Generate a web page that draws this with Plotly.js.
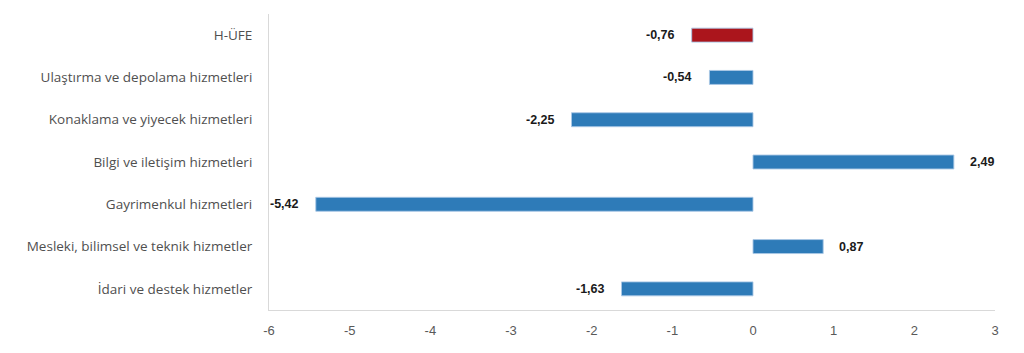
<!DOCTYPE html>
<html><head><meta charset="utf-8">
<script src="https://cdn.plot.ly/plotly-3.0.1.min.js"></script>
<style>html,body{margin:0;padding:0;background:#fff;}#chart{width:1024px;height:353px;}</style>
</head><body><div id="chart"></div>
<script>
const categories = ["H-ÜFE","Ulaştırma ve depolama hizmetleri","Konaklama ve yiyecek hizmetleri","Bilgi ve iletişim hizmetleri","Gayrimenkul hizmetleri","Mesleki, bilimsel ve teknik hizmetler","İdari ve destek hizmetler"];
const values = [-0.76,-0.54,-2.25,2.49,-5.42,0.87,-1.63];
const colors = ["#ab151c","#2e7bb8","#2e7bb8","#2e7bb8","#2e7bb8","#2e7bb8","#2e7bb8"];
const xTicks = [-6,-5,-4,-3,-2,-1,0,1,2,3];

const fmt = v => v.toFixed(2).replace('.', ',');

const trace = {
  type:'bar', orientation:'h', y:categories, x:values,
  width:0.33,
  marker:{color:colors, line:{color:'rgba(170,200,230,0.9)', width:1}},
  hoverinfo:'none'
};
const annotations = values.map((v,i)=>({
  x:v, y:categories[i], xref:'x', yref:'y', text:fmt(v), showarrow:false,
  xanchor: v<0 ? 'right':'left', xshift: v<0 ? -15 : 14,
  font:{family:'"Liberation Sans Narrow", "Liberation Sans", Arial', size:12.5, color:'#1a1a1a', weight:'bold'}
}));
const layout = {
  width:1024, height:353,
  margin:{l:269, r:29, t:14, b:43},
  paper_bgcolor:'#fff', plot_bgcolor:'#fff',
  showlegend:false,
  xaxis:{range:[-6,3], tickvals:xTicks, ticktext:xTicks.map(String), showgrid:false, zeroline:false,
    showline:true, linecolor:'#d9d9d9', linewidth:1, ticks:'', ticklabelstandoff:8,
    tickfont:{family:'"Liberation Sans Narrow", "Liberation Sans", Arial', size:13, color:'#595959'}, fixedrange:true},
  yaxis:{categoryorder:'array', categoryarray:categories, autorange:'reversed', showgrid:false, zeroline:false,
    showline:true, linecolor:'#d9d9d9', linewidth:1, ticks:'', ticklabelstandoff:13,
    tickfont:{family:'"Open Sans", "Noto Sans", sans-serif', size:13.5, color:'#4f4f4f'}},
  annotations:annotations
};
Plotly.newPlot('chart',[trace],layout,{displayModeBar:false,staticPlot:true});
</script></body></html>
